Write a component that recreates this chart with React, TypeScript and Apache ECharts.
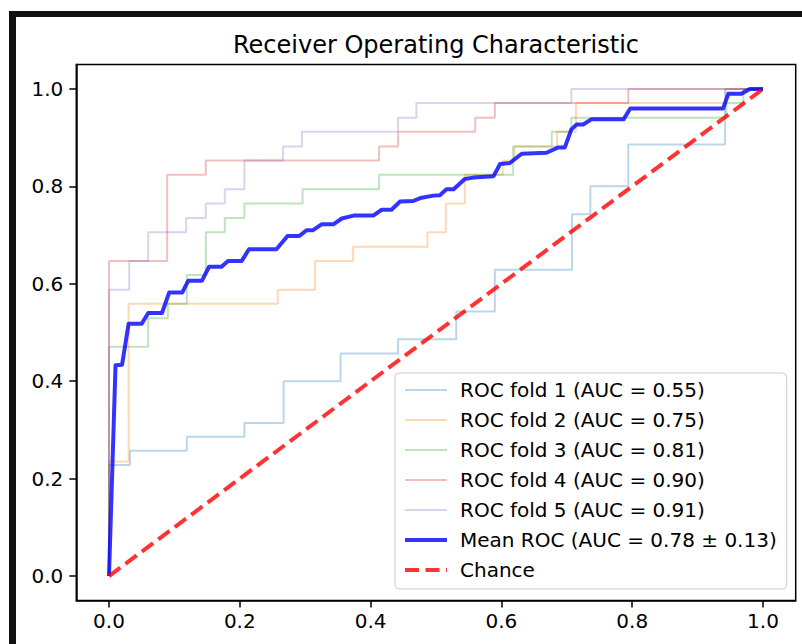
import React, { useEffect, useRef } from "react";
import * as echarts from "echarts";

const titleText = "Receiver Operating Characteristic";
const xTicks = [0, 0.2, 0.4, 0.6, 0.8, 1.0];
const yTicks = [0, 0.2, 0.4, 0.6, 0.8, 1.0];

const foldNames = [
  "ROC fold 1 (AUC = 0.55)",
  "ROC fold 2 (AUC = 0.75)",
  "ROC fold 3 (AUC = 0.81)",
  "ROC fold 4 (AUC = 0.90)",
  "ROC fold 5 (AUC = 0.91)",
];
const meanName = "Mean ROC (AUC = 0.78 \u00b1 0.13)";
const chanceName = "Chance";

const fold1Fpr = [0, 0, 0.032, 0.032, 0.119, 0.119, 0.207, 0.207, 0.267, 0.267, 0.354, 0.354, 0.442, 0.442, 0.531, 0.531, 0.59, 0.59, 0.708, 0.708, 0.736, 0.736, 0.794, 0.794, 0.942, 0.942, 1];
const fold1Tpr = [0, 0.228, 0.228, 0.257, 0.257, 0.286, 0.286, 0.314, 0.314, 0.4, 0.4, 0.457, 0.457, 0.486, 0.486, 0.543, 0.543, 0.629, 0.629, 0.743, 0.743, 0.8, 0.8, 0.886, 0.886, 1, 1];

const fold2Fpr = [0, 0, 0.03, 0.03, 0.258, 0.258, 0.315, 0.315, 0.373, 0.373, 0.487, 0.487, 0.515, 0.515, 0.544, 0.544, 0.602, 0.602, 0.62, 0.62, 0.685, 0.685, 0.714, 0.714, 0.944, 0.944, 1];
const fold2Tpr = [0, 0.235, 0.235, 0.559, 0.559, 0.588, 0.588, 0.647, 0.647, 0.676, 0.676, 0.706, 0.706, 0.765, 0.765, 0.824, 0.824, 0.853, 0.853, 0.882, 0.882, 0.912, 0.912, 0.971, 0.971, 1, 1];

const fold3Fpr = [0, 0, 0.06, 0.06, 0.09, 0.09, 0.119, 0.119, 0.148, 0.148, 0.177, 0.177, 0.207, 0.207, 0.296, 0.296, 0.413, 0.413, 0.618, 0.618, 0.677, 0.677, 0.707, 0.707, 0.944, 0.944, 0.97, 0.97, 1];
const fold3Tpr = [0, 0.471, 0.471, 0.529, 0.529, 0.559, 0.559, 0.618, 0.618, 0.706, 0.706, 0.735, 0.735, 0.765, 0.765, 0.794, 0.794, 0.824, 0.824, 0.882, 0.882, 0.912, 0.912, 0.941, 0.941, 0.971, 0.971, 1, 1];

const fold4Fpr = [0, 0, 0.089, 0.089, 0.148, 0.148, 0.413, 0.413, 0.442, 0.442, 0.56, 0.56, 0.59, 0.59, 0.794, 0.794, 1];
const fold4Tpr = [0, 0.647, 0.647, 0.824, 0.824, 0.853, 0.853, 0.882, 0.882, 0.912, 0.912, 0.941, 0.941, 0.971, 0.971, 1, 1];

const fold5Fpr = [0, 0, 0.031, 0.031, 0.06, 0.06, 0.118, 0.118, 0.148, 0.148, 0.177, 0.177, 0.207, 0.207, 0.266, 0.266, 0.295, 0.295, 0.442, 0.442, 0.47, 0.47, 0.707, 0.707, 1];
const fold5Tpr = [0, 0.588, 0.588, 0.647, 0.647, 0.706, 0.706, 0.735, 0.735, 0.765, 0.765, 0.794, 0.794, 0.853, 0.853, 0.882, 0.882, 0.912, 0.912, 0.941, 0.941, 0.971, 0.971, 1, 1];

const meanFpr = [0, 0.01, 0.02, 0.03, 0.05, 0.06, 0.081, 0.092, 0.112, 0.121, 0.142, 0.153, 0.172, 0.182, 0.203, 0.214, 0.256, 0.273, 0.291, 0.302, 0.312, 0.325, 0.343, 0.356, 0.374, 0.404, 0.417, 0.432, 0.445, 0.465, 0.476, 0.496, 0.506, 0.516, 0.527, 0.544, 0.557, 0.588, 0.598, 0.613, 0.631, 0.669, 0.687, 0.697, 0.707, 0.715, 0.725, 0.738, 0.787, 0.797, 0.939, 0.947, 0.967, 0.98, 1.0];
const meanTpr = [0, 0.433, 0.434, 0.518, 0.518, 0.54, 0.54, 0.582, 0.582, 0.606, 0.606, 0.635, 0.635, 0.647, 0.647, 0.671, 0.671, 0.698, 0.698, 0.71, 0.71, 0.722, 0.722, 0.734, 0.74, 0.74, 0.752, 0.752, 0.769, 0.77, 0.776, 0.781, 0.782, 0.794, 0.794, 0.815, 0.818, 0.821, 0.846, 0.848, 0.867, 0.869, 0.88, 0.88, 0.917, 0.927, 0.927, 0.938, 0.938, 0.96, 0.96, 0.99, 0.99, 1.0, 1.0];

const chanceX = [0, 1];
const chanceY = [0, 1];

const foldColors = ["#1f77b4", "#ff7f0e", "#2ca02c", "#d62728", "#9467bd"];

const zip = (xs: number[], ys: number[]) => xs.map((x, i) => [x, ys[i]]);

const FONT = "DejaVu Sans";
const CHANCE_DASH = [14, 6.5];

export default function App() {
  const ref = useRef<HTMLDivElement>(null);
  useEffect(() => {
    if (!ref.current) return;
    const chart = echarts.init(ref.current, undefined, { renderer: "svg" });
    const folds = [
      zip(fold1Fpr, fold1Tpr),
      zip(fold2Fpr, fold2Tpr),
      zip(fold3Fpr, fold3Tpr),
      zip(fold4Fpr, fold4Tpr),
      zip(fold5Fpr, fold5Tpr),
    ];
    const series: any[] = folds.map((d, i) => ({
      name: foldNames[i],
      type: "line",
      data: d,
      symbol: "none",
      showSymbol: false,
      color: foldColors[i],
      lineStyle: { color: foldColors[i], width: 2, opacity: 0.3 },
      z: 2,
    }));
    series.push({
      name: meanName,
      type: "line",
      data: zip(meanFpr, meanTpr),
      symbol: "none",
      showSymbol: false,
      color: "#0000ff",
      lineStyle: { color: "#0000ff", width: 4, opacity: 0.8, join: "round" },
      z: 3,
    });
    series.push({
      name: chanceName,
      type: "line",
      data: zip(chanceX, chanceY),
      symbol: "none",
      showSymbol: false,
      color: "#ff0000",
      lineStyle: { color: "#ff0000", width: 4, opacity: 0.8, type: CHANCE_DASH },
      z: 4,
    });

    const legendData: any[] = [
      ...foldNames.map((n, i) => ({
        name: n,
        itemStyle: { opacity: 0 },
        lineStyle: { color: foldColors[i], width: 2, opacity: 0.3, type: "solid" },
      })),
      {
        name: meanName,
        itemStyle: { opacity: 0 },
        lineStyle: { color: "#0000ff", width: 4, opacity: 0.8, type: "solid" },
      },
      {
        name: chanceName,
        itemStyle: { opacity: 0 },
        lineStyle: { color: "#ff0000", width: 4, opacity: 0.8, type: CHANCE_DASH },
      },
    ];

    chart.setOption({
      animation: false,
      backgroundColor: "transparent",
      title: {
        text: titleText,
        left: 436,
        top: 31,
        padding: 0,
        textAlign: "center",
        textStyle: {
          fontFamily: FONT,
          fontSize: 24,
          fontWeight: "normal",
          color: "#000",
          lineHeight: 28,
        },
      },
      grid: {
        left: 76.3,
        right: 6.3,
        top: 64.6,
        bottom: 43.6,
        show: true,
        borderColor: "#000",
        borderWidth: 1.5,
        backgroundColor: "transparent",
      },
      xAxis: {
        type: "value",
        min: -0.05,
        max: 1.05,
        splitLine: { show: false },
        axisLine: { show: true, onZero: false, lineStyle: { color: "#000", width: 1.5 } },
        axisTick: {
          show: true,
          customValues: xTicks,
          length: 7,
          lineStyle: { color: "#000", width: 1.5 },
        },
        axisLabel: {
          customValues: xTicks,
          formatter: (v: number) => v.toFixed(1),
          fontFamily: FONT,
          fontSize: 20,
          lineHeight: 20,
          color: "#000",
          margin: 11,
        },
      },
      yAxis: {
        type: "value",
        min: -0.05,
        max: 1.05,
        splitLine: { show: false },
        axisLine: { show: true, onZero: false, lineStyle: { color: "#000", width: 1.5 } },
        axisTick: {
          show: true,
          customValues: yTicks,
          length: 7,
          lineStyle: { color: "#000", width: 1.5 },
        },
        axisLabel: {
          customValues: yTicks,
          formatter: (v: number) => v.toFixed(1),
          fontFamily: FONT,
          fontSize: 20,
          lineHeight: 20,
          color: "#000",
          margin: 13,
        },
      },
      legend: {
        orient: "vertical",
        left: 395,
        top: 373,
        padding: [7, 10, 9, 8],
        itemGap: 10,
        itemWidth: 42,
        itemHeight: 14,
        backgroundColor: "rgba(255,255,255,0.8)",
        borderColor: "#cccccc",
        borderWidth: 1,
        borderRadius: 4,
        itemStyle: { opacity: 0, borderWidth: 0 },
        data: legendData,
        textStyle: {
          fontFamily: FONT,
          fontSize: 20,
          lineHeight: 20,
          color: "#000",
          padding: [0, 0, 0, 8],
        },
      },
      series,
    });
    return () => chart.dispose();
  }, []);

  return (
    <div style={{ position: "fixed", left: 0, top: 0, width: 802, height: 644, background: "#fff", overflow: "hidden" }}>
      <div
        style={{
          position: "absolute",
          left: 9,
          top: 11,
          width: 800,
          height: 640,
          borderLeft: "7px solid #111",
          borderTop: "6px solid #111",
          boxSizing: "border-box",
        }}
      />
      <div ref={ref} style={{ position: "absolute", left: 0, top: 0, width: 802, height: 644 }} />
    </div>
  );
}
